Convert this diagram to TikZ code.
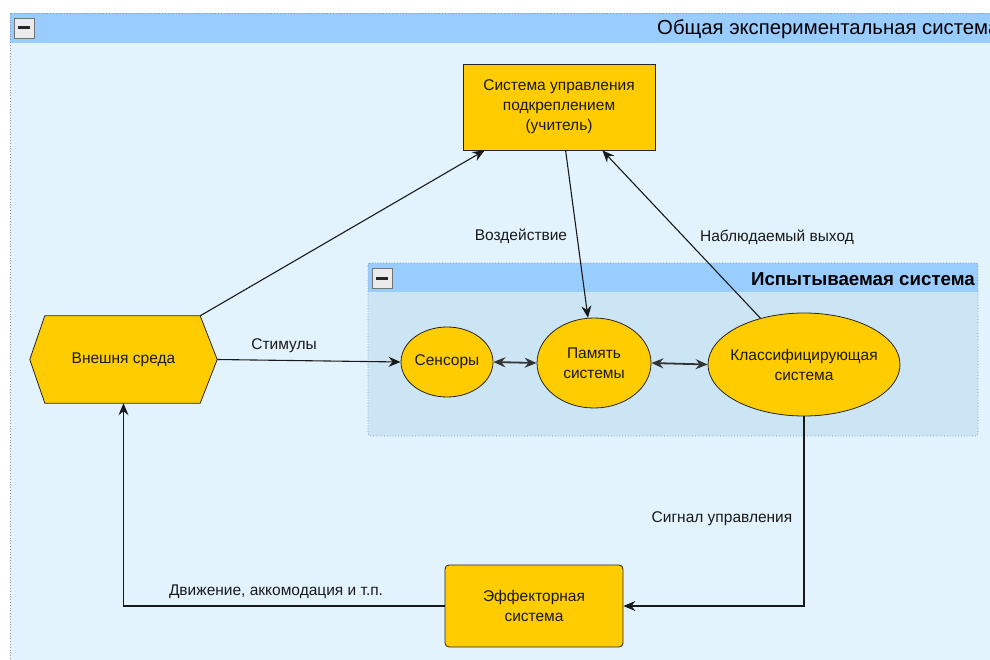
\documentclass[tikz,border=0pt]{standalone}
\usepackage{fontspec}
\setmainfont{Liberation Sans}
\usetikzlibrary{arrows.meta,shapes.geometric,calc}
\definecolor{hdr}{HTML}{99CCFF}
\definecolor{outerbg}{HTML}{E2F3FE}
\definecolor{innerbg}{HTML}{CCE5F4}
\definecolor{gold}{HTML}{FFCC00}
\definecolor{frame}{HTML}{8C9AAA}
\begin{document}
\begin{tikzpicture}[x=1pt,y=-1pt,
  nodefont/.style={font=\fontsize{15.5}{20}\selectfont},
  box/.style={draw=black!85, fill=gold, line width=0.8pt, align=center, inner sep=0pt, nodefont, text=black!90},
  ell/.style={ellipse, draw=black!85, fill=gold, line width=0.8pt, inner sep=0pt},
  tip/.style={Stealth[length=12pt,width=10pt,inset=4pt]},
  conn/.style={draw=black!90, line width=1.1pt, -{Stealth[length=12pt,width=10pt,inset=4pt]}},
  dconn/.style={draw=black!80, line width=1.8pt, {Stealth[length=12pt,width=10pt,inset=4pt]}-{Stealth[length=12pt,width=10pt,inset=4pt]}},
  lbl/.style={nodefont, text=black!90, inner sep=0pt, align=center},
  ttl/.style={font=\fontsize{20.3}{24}\selectfont, text=black, inner sep=0pt},
  minusbtn/.style={draw=black!55, fill=black!8, line width=0.8pt, minimum width=20pt, minimum height=20pt, inner sep=0pt}
]
\useasboundingbox (0,0) rectangle (990,660);
\fill[white] (0,0) rectangle (990,660);
\clip (0,0) rectangle (990,660);

% outer container
\fill[outerbg] (10,13) rectangle (1000,670);
\fill[hdr] (10,13) rectangle (1000,43);
\draw[frame, dotted, line width=0.8pt] (10,670) -- (10,13) -- (1000,13);
\node[minusbtn] (btnA) at (24,28) {};
\fill[black!85] ($(btnA)+(-6,-1.5)$) rectangle ($(btnA)+(6,1.5)$);
\node[ttl, anchor=base west] (titleA) at (657,35) {Общая экспериментальная система};

% inner container
\fill[innerbg, rounded corners=3pt] (368,263) rectangle (978,436);
\fill[hdr] (368.4,263.4) rectangle (977.6,292);
\draw[frame, dotted, line width=0.8pt, rounded corners=3pt] (368,263) rectangle (978,436);
\node[minusbtn] (btnB) at (382,278.5) {};
\fill[black!85] ($(btnB)+(-6,-1.5)$) rectangle ($(btnB)+(6,1.5)$);
\node[ttl, anchor=base east, font=\bfseries\fontsize{18.7}{23}\selectfont] (titleB) at (975,285) {Испытываемая система};

% nodes
\node[box, minimum width=192pt, minimum height=86pt] (teach) at (559,107) {Система управления\\подкреплением\\(учитель)};
\node[inner sep=0pt, minimum width=187pt, minimum height=87pt] (env) at (123.5,359.5) {};
\draw[draw=black!85, fill=gold, line width=0.8pt]
  (env.west) -- ($(env.north west)+(15,0)$) -- ($(env.north east)+(-17,0)$) -- (env.east)
  -- ($(env.south east)+(-17,0)$) -- ($(env.south west)+(15,0)$) -- cycle;
\node[lbl] (envtext) at (env.center) {Внешня среда};
\node[ell, minimum width=92pt, minimum height=70pt] (sens) at (447,362) {};
\node[lbl] (senstext) at (sens.center) {Сенсоры};
\node[ell, minimum width=114pt, minimum height=90pt] (mem) at (594,363) {};
\node[lbl] (memtext) at (mem.center) {Память\\системы};
\node[ell, minimum width=192pt, minimum height=103pt] (cls) at (804,364.5) {};
\node[lbl] (clstext) at (cls.center) {Классифицирующая\\система};
\node[box, rounded corners=4pt, minimum width=178pt, minimum height=82pt] (eff) at (534,606) {Эффекторная\\система};

% connectors
\coordinate (envNE) at ($(env.north east)+(-17,0)$);
\coordinate (teachIn1) at ($(teach.south west)+(22,0)$);
\coordinate (teachOut) at ($(teach.south west)+(103,0)$);
\coordinate (teachIn2) at ($(teach.south east)+(-53,0)$);
\draw[conn] (envNE) -- (teachIn1);
\draw[conn] (teachOut) -- (mem);
\draw[conn] (cls) -- (teachIn2);
\draw[conn] (env.east) -- (sens.west);
\draw[dconn] (sens.east) -- (mem.west);
\draw[dconn] (mem.east) -- (cls.west);
\draw[conn] (cls.south) |- (eff.east);
\draw[conn] (eff.west) -| (env.south);

% labels
\node[lbl] (lVozd) at (521,236) {Воздействие};
\node[lbl] (lNabl) at (777,237) {Наблюдаемый выход};
\node[lbl] (lStim) at (284,346) {Стимулы};
\node[lbl] (lSig) at (722,519) {Сигнал управления};
\node[lbl] (lDv) at (276,592) {Движение, аккомодация и т.п.};
\end{tikzpicture}
\end{document}
